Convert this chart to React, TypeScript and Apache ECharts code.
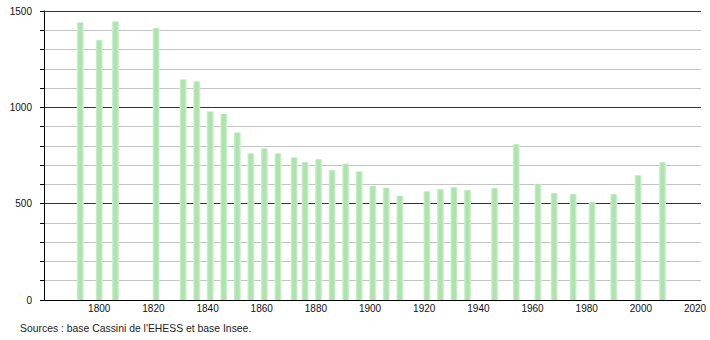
import React, { useEffect, useRef } from "react";
import * as echarts from "echarts";

const years = [1793, 1800, 1806, 1821, 1831, 1836, 1841, 1846, 1851, 1856, 1861, 1866, 1872, 1876, 1881, 1886, 1891, 1896, 1901, 1906, 1911, 1921, 1926, 1931, 1936, 1946, 1954, 1962, 1968, 1975, 1982, 1990, 1999, 2008];
const population = [1440, 1348, 1445, 1410, 1144, 1134, 979, 965, 870, 761, 786, 760, 740, 715, 730, 673, 707, 667, 591, 582, 540, 564, 575, 585, 570, 580, 808, 601, 554, 549, 508, 549, 647, 715];
const xLabels = [1800, 1820, 1840, 1860, 1880, 1900, 1920, 1940, 1960, 1980, 2000, 2020];
const yLabels = [0, 500, 1000, 1500];
const sourceText = "Sources : base Cassini de l'EHESS et base Insee.";

export default function App() {
  const ref = useRef<HTMLDivElement>(null);
  useEffect(() => {
    if (!ref.current) return;
    const chart = echarts.init(ref.current, null, { renderer: "svg" });
    const font = "'Liberation Sans', Arial, sans-serif";
    const barColor = new echarts.graphic.LinearGradient(0, 0, 1, 0, [
      { offset: 0, color: "#d4f1d4" },
      { offset: 0.3, color: "#ade3ad" },
      { offset: 0.7, color: "#ade3ad" },
      { offset: 1, color: "#daf4da" },
    ]);
    chart.setOption({
      animation: false,
      grid: { left: 44, top: 11, width: 657, height: 289, containLabel: false },
      xAxis: {
        type: "value",
        min: 1779.6,
        max: 2022.2,
        axisLine: { show: true, lineStyle: { color: "#000", width: 1 } },
        axisTick: { show: false },
        splitLine: { show: false },
        axisLabel: {
          customValues: xLabels,
          formatter: (v: number) => (xLabels.includes(Math.round(v)) ? String(Math.round(v)) : ""),
          color: "#111",
          fontSize: 10,
          fontFamily: font,
          margin: 3,
          showMinLabel: true,
          showMaxLabel: true,
        },
      },
      yAxis: {
        type: "value",
        min: 0,
        max: 1500,
        interval: 100,
        axisLine: { show: true, lineStyle: { color: "#000", width: 1 } },
        axisTick: { show: true, length: 4, lineStyle: { color: "#000" } },
        splitLine: {
          show: true,
          lineStyle: { color: ["#333", "#c4c4c4", "#c4c4c4", "#c4c4c4", "#c4c4c4"], width: 1 },
        },
        axisLabel: {
          formatter: (v: number) => (yLabels.includes(v) ? String(v) : ""),
          color: "#111",
          fontSize: 10,
          fontFamily: font,
          margin: 12,
        },
      },
      series: [
        {
          type: "bar",
          barWidth: 7,
          data: years.map((y, i) => [y, population[i]]),
          itemStyle: { color: barColor },
          silent: true,
        },
      ],
      graphic: [
        {
          type: "text",
          left: 20,
          top: 323,
          style: { text: sourceText, fill: "#222", fontSize: 10.4, fontFamily: font },
        },
      ],
    });
    return () => chart.dispose();
  }, []);
  return (
    <div
      ref={ref}
      style={{ position: "fixed", left: 0, top: 0, width: 710, height: 340, background: "#fff" }}
    />
  );
}
